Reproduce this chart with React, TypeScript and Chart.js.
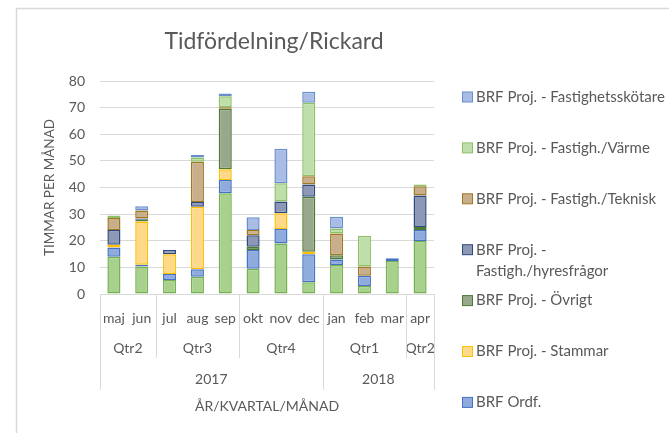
import { useEffect, useRef } from "react";
import { Chart, registerables } from "chart.js";

Chart.register(...registerables);

const TITLE = "Tidfördelning/Rickard";
const Y_TITLE = "TIMMAR PER MÅNAD";
const X_TITLE = "ÅR/KVARTAL/MÅNAD";

const months = ["maj", "jun", "jul", "aug", "sep", "okt", "nov", "dec", "jan", "feb", "mar", "apr"];
const quarterLabels = ["Qtr2", "Qtr3", "Qtr4", "Qtr1", "Qtr2"];
const quarterSpans = [2, 3, 3, 3, 1];
const yearLabels = ["2017", "2018"];
const yearSpans = [8, 4];
const yTicks = [0, 10, 20, 30, 40, 50, 60, 70, 80];

// stacked bottom-up; the first series is not listed in the visible legend
const seriesNames = [
  "(ej i förklaringen)",
  "BRF Ordf.",
  "BRF Proj. - Stammar",
  "BRF Proj. - Övrigt",
  "BRF Proj. - Fastigh./hyresfrågor",
  "BRF Proj. - Fastigh./Teknisk",
  "BRF Proj. - Fastigh./Värme",
  "BRF Proj. - Fastighetsskötare",
];
const inLegend = [false, true, true, true, true, true, true, true];

const baseValues = [14, 10.3, 5.3, 6.5, 37.8, 9.5, 19, 4.4, 10.9, 3, 12.4, 19.9];
const ordfValues = [3.5, 0.7, 2.2, 2.8, 5, 7, 5.4, 10.5, 2.1, 3.9, 1, 4.1];
const stammarValues = [1, 16.2, 7.4, 23.5, 4.1, 0, 5.9, 1, 0, 0, 0, 0];
const ovrigtValues = [0, 0.7, 0, 0, 22.7, 1.2, 0, 20.6, 1.6, 0, 0, 1.2];
const hyresValues = [5.5, 0.5, 1.6, 1.8, 0, 4.4, 4.4, 4.6, 0, 0, 0, 11.8];
const tekniskValues = [4.5, 3, 0, 15.1, 0.5, 1.9, 0, 3.1, 8.1, 3.4, 0, 3.5];
const varmeValues = [1, 0, 0, 1.6, 4.2, 0, 6.9, 27.6, 1.9, 11.6, 0, 0.6];
const skotareValues = [0, 1.6, 0, 0.9, 1, 4.8, 13, 4.2, 4.4, 0, 0, 0];

const seriesValues = [
  baseValues,
  ordfValues,
  stammarValues,
  ovrigtValues,
  hyresValues,
  tekniskValues,
  varmeValues,
  skotareValues,
];

const fillColors = ["#A9D18E", "#8FAADC", "#FFD98A", "#98A88B", "#8D98B6", "#C8AE8A", "#BFDFAA", "#A9BCE6"];
const borderColors = ["#76B04F", "#4472C4", "#FFC000", "#4E7A34", "#2E4A7E", "#A07820", "#8CC168", "#698ED0"];

const FONT = "'Lato', 'Open Sans', sans-serif";
const TEXT = "#595959";
const LINE = "#D9D9D9";

const decorPlugin = {
  id: "decor",
  beforeDraw(chart: any) {
    const ctx = chart.ctx;
    ctx.save();
    ctx.strokeStyle = LINE;
    ctx.lineWidth = 1.5;
    ctx.beginPath();
    ctx.moveTo(16.5, chart.height + 2);
    ctx.lineTo(16.5, 8.5);
    ctx.lineTo(chart.width + 2, 8.5);
    ctx.stroke();
    ctx.restore();
  },
  afterDraw(chart: any) {
    const ctx = chart.ctx;
    const { left, right, top, bottom } = chart.chartArea;
    const w = (right - left) / months.length;
    ctx.save();
    // title
    ctx.fillStyle = TEXT;
    ctx.font = `23px ${FONT}`;
    ctx.textAlign = "center";
    ctx.textBaseline = "middle";
    ctx.fillText(TITLE, 274, 42);

    // y title
    ctx.save();
    ctx.translate(50, (top + bottom) / 2);
    ctx.rotate(-Math.PI / 2);
    ctx.font = `13.5px ${FONT}`;
    ctx.fillText(Y_TITLE, 0, 0);
    ctx.restore();

    // multi level axis
    ctx.strokeStyle = LINE;
    ctx.lineWidth = 1;
    const yearEdges = new Set<number>();
    let acc = 0;
    yearEdges.add(0);
    yearSpans.forEach((s) => {
      acc += s;
      yearEdges.add(acc);
    });
    ctx.font = `14px ${FONT}`;
    let idx = 0;
    quarterLabels.forEach((q, i) => {
      const x0 = left + idx * w;
      const x1 = left + (idx + quarterSpans[i]) * w;
      ctx.fillText(q, (x0 + x1) / 2, bottom + 54);
      idx += quarterSpans[i];
    });
    // dividers
    idx = 0;
    const edges = [0];
    quarterSpans.forEach((s) => {
      idx += s;
      edges.push(idx);
    });
    edges.forEach((e) => {
      const x = Math.round(left + e * w) + 0.5;
      const yEnd = yearEdges.has(e) ? bottom + 96 : bottom + 64;
      ctx.beginPath();
      ctx.moveTo(x, bottom);
      ctx.lineTo(x, yEnd);
      ctx.stroke();
    });
    idx = 0;
    yearLabels.forEach((y, i) => {
      const x0 = left + idx * w;
      const x1 = left + (idx + yearSpans[i]) * w;
      ctx.fillText(y, (x0 + x1) / 2, bottom + 85.5);
      idx += yearSpans[i];
    });
    ctx.fillText(X_TITLE, (left + right) / 2, bottom + 112);

    // legend
    const items = chart.data.datasets
      .map((d: any, i: number) => ({ d, i }))
      .filter((o: any) => inLegend[o.i])
      .reverse();
    ctx.font = `15px ${FONT}`;
    ctx.textAlign = "left";
    const maxW = chart.width - 476 + 2;
    items.forEach((o: any, k: number) => {
      const cy = 97 + k * 50.9;
      ctx.fillStyle = o.d.backgroundColor;
      ctx.fillRect(462.5, cy - 5, 10, 10);
      ctx.strokeStyle = o.d.borderColor;
      ctx.lineWidth = 1;
      ctx.strokeRect(462.5, cy - 5, 10, 10);
      // wrap
      const words = String(o.d.label).split(" ");
      const lines: string[] = [];
      let cur = "";
      words.forEach((wd) => {
        const t = cur ? cur + " " + wd : wd;
        if (ctx.measureText(t).width > maxW && cur) {
          lines.push(cur);
          cur = wd;
        } else cur = t;
      });
      if (cur) lines.push(cur);
      ctx.fillStyle = TEXT;
      lines.forEach((ln, li) => ctx.fillText(ln, 476, cy + li * 21));
    });
    ctx.restore();
  },
};

export default function App() {
  const ref = useRef<HTMLCanvasElement | null>(null);
  useEffect(() => {
    if (!ref.current) return;
    const chart = new Chart(ref.current, {
      type: "bar",
      data: {
        labels: months,
        datasets: seriesValues.map((vals, i) => ({
          label: seriesNames[i],
          data: vals,
          backgroundColor: fillColors[i],
          borderColor: borderColors[i],
          borderWidth: 1.5,
          borderSkipped: false,
          barPercentage: 0.47,
          categoryPercentage: 1,
        })),
      },
      options: {
        animation: false,
        responsive: false,
        devicePixelRatio: 1,
        layout: { padding: { left: 0, right: 235, top: 81, bottom: 0 } },
        plugins: { legend: { display: false }, title: { display: false }, tooltip: { enabled: false } },
        scales: {
          x: {
            stacked: true,
            grid: { display: false },
            border: { display: true, color: LINE, width: 1 },
            ticks: {
              color: TEXT,
              font: { family: FONT, size: 14 },
              padding: 8,
              autoSkip: false,
              maxRotation: 0,
            },
            afterFit: (s: any) => {
              s.height = 139;
            },
          },
          y: {
            stacked: true,
            min: 0,
            max: 80,
            afterBuildTicks: (s: any) => {
              s.ticks = yTicks.map((v) => ({ value: v }));
            },
            grid: { color: LINE, lineWidth: 1, drawTicks: false },
            border: { display: false },
            ticks: {
              color: TEXT,
              font: { family: FONT, size: 14 },
              padding: 15,
            },
            afterFit: (s: any) => {
              s.width = 100;
            },
          },
        },
      },
      plugins: [decorPlugin],
    });
    return () => chart.destroy();
  }, []);
  return (
    <div style={{ position: "absolute", left: 0, top: 0, width: 669, height: 433, background: "#fff" }}>
      <canvas ref={ref} width={669} height={433} />
    </div>
  );
}
